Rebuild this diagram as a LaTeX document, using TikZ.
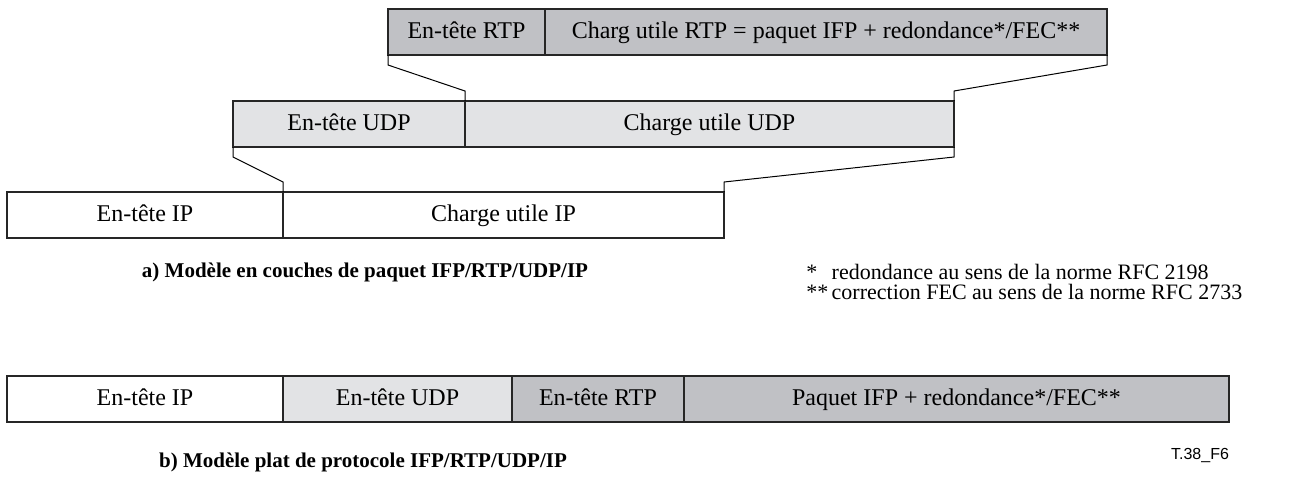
\documentclass[tikz,border=0pt]{standalone}
\usepackage{fontspec}
\setmainfont{Liberation Serif}
\setsansfont{Liberation Sans}
\usetikzlibrary{positioning}
\definecolor{rtpgray}{RGB}{192,193,197}
\definecolor{udpgray}{RGB}{226,227,229}

\begin{document}
\begin{tikzpicture}[x=0.5pt,y=-0.5pt,
    cell/.style={draw=black!85,line width=0.6pt,inner sep=0,outer sep=0,minimum height=23pt,
        text height=8pt,text depth=1.3pt,font=\fontsize{12}{14}\selectfont},
    link/.style={line width=0.5pt},
    caption/.style={font=\fontsize{10.5}{12}\selectfont\bfseries},
    note/.style={anchor=west,inner sep=0,font=\fontsize{11}{13}\selectfont}]
    \useasboundingbox (0,0) rectangle (1302,484);
    % a) layered model
    \node[cell,fill=rtpgray,anchor=north west,minimum width=78.5pt] (rtphdr) at (388,9) {En-tête RTP};
    \node[cell,fill=rtpgray,minimum width=281pt,right=0pt of rtphdr] (rtppay) {Charg utile RTP = paquet IFP + redondance*/FEC**};
    \node[cell,fill=udpgray,anchor=north west,minimum width=116pt] (udphdr) at (233,101) {En-tête UDP};
    \node[cell,fill=udpgray,minimum width=244.5pt,right=0pt of udphdr] (udppay) {Charge utile UDP};
    \node[cell,fill=white,anchor=north west,minimum width=138pt] (iphdr) at (7,192) {En-tête IP};
    \node[cell,fill=white,minimum width=220.5pt,right=0pt of iphdr] (ippay) {Charge utile IP};
    % encapsulation
    \draw[link] (rtphdr.south west) -- ++(0,10) -- ([yshift=5pt]udppay.north west) -- (udppay.north west);
    \draw[link] (rtppay.south east) -- ++(0,10) -- ([yshift=5pt]udppay.north east) -- (udppay.north east);
    \draw[link] (udphdr.south west) -- ++(0,10) -- ([yshift=5pt]ippay.north west) -- (ippay.north west);
    \draw[link] (udppay.south east) -- ++(0,10) -- ([yshift=5pt]ippay.north east) -- (ippay.north east);
    \node[caption] (capa) at (365,272) {a) Modèle en couches de paquet IFP/RTP/UDP/IP};
    \node[note] (fnone) at (806,272) {\makebox[1.15em][l]{*}redondance au sens de la norme RFC 2198};
    \node[note] (fntwo) at (806,292) {\makebox[1.15em][l]{**}correction FEC au sens de la norme RFC 2733};
    % b) flat model
    \node[cell,fill=white,anchor=north west,minimum width=138pt] (fip) at (7,376) {En-tête IP};
    \node[cell,fill=udpgray,minimum width=114.5pt,right=0pt of fip] (fudp) {En-tête UDP};
    \node[cell,fill=rtpgray,minimum width=86pt,right=0pt of fudp] (frtp) {En-tête RTP};
    \node[cell,fill=rtpgray,minimum width=272.5pt,right=0pt of frtp] (fpay) {Paquet IFP + redondance*/FEC**};
    \node[caption] (capb) at (363,462) {b) Modèle plat de protocole IFP/RTP/UDP/IP};
    \node[font=\sffamily\fontsize{8}{10}\selectfont,inner sep=0] (figid) at (1200,455) {T.38\_F6};
\end{tikzpicture}
\end{document}
